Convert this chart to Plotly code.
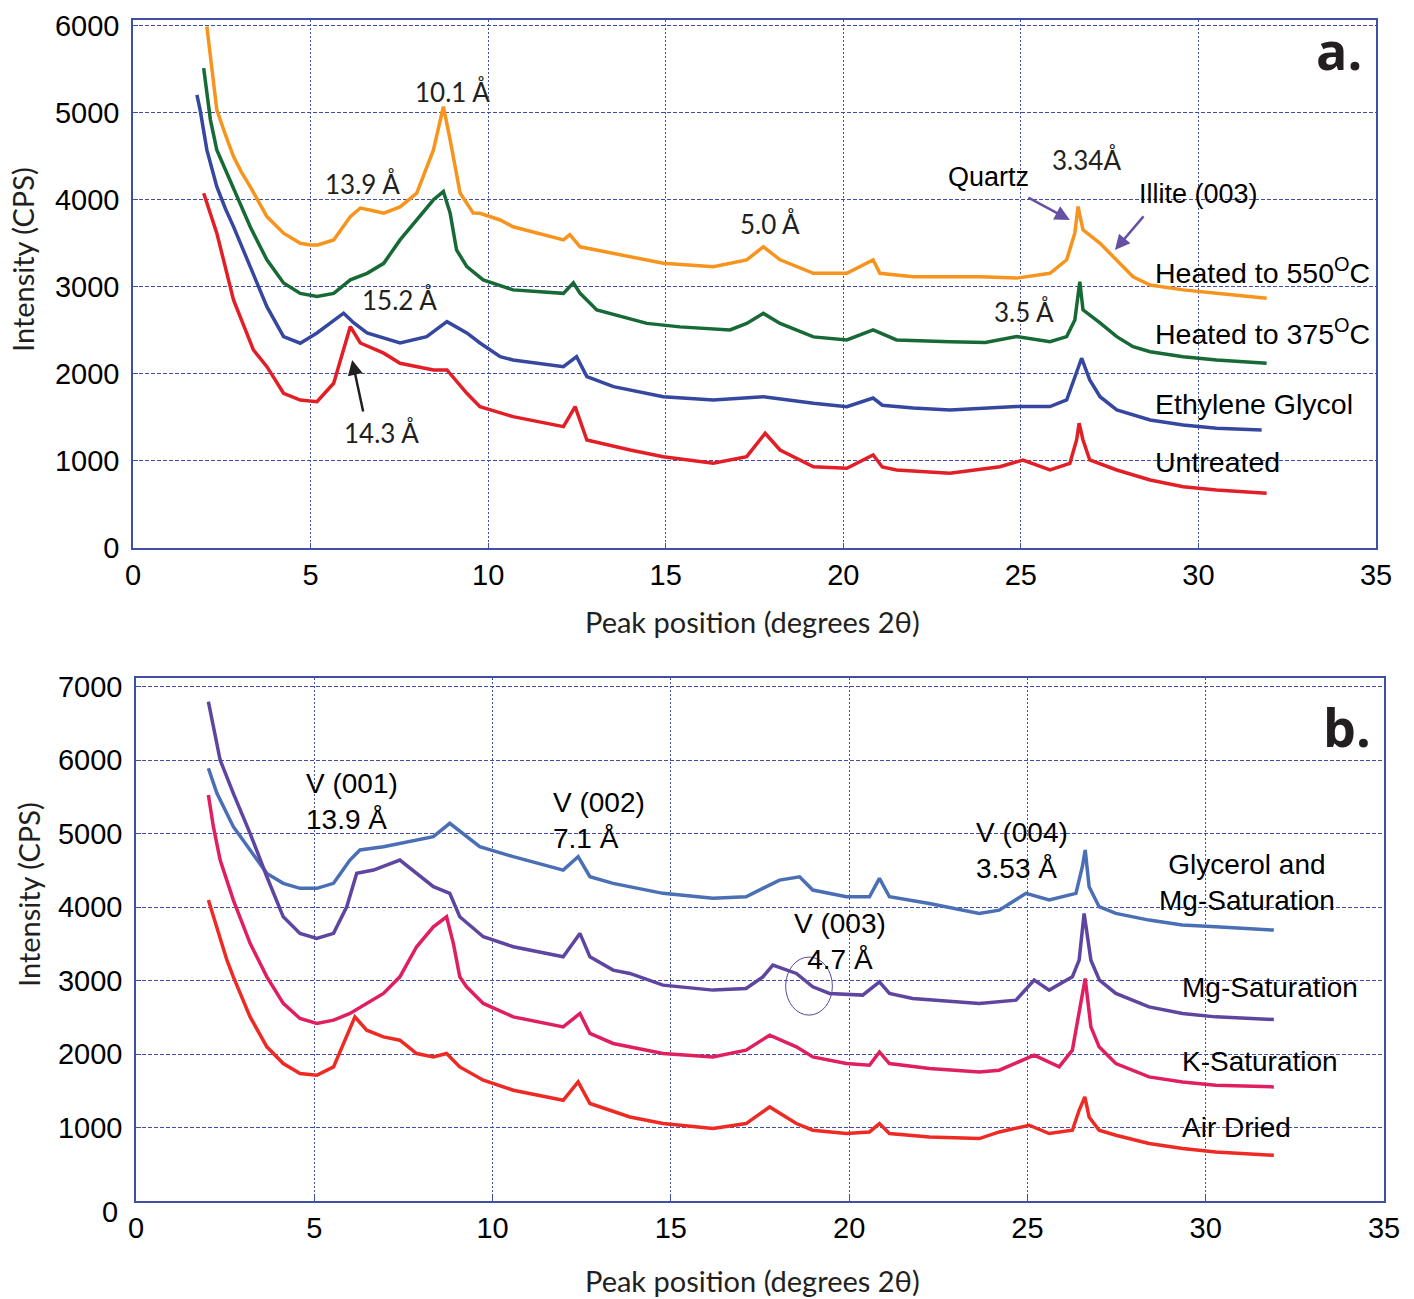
import plotly.graph_objects as go

# ---------------- Panel a data ----------------
x_550 = [2.08, 2.2, 2.36, 2.6, 2.83, 3.05, 3.30, 3.77, 4.24, 4.71, 5.0, 5.2, 5.65, 6.12, 6.4, 6.7, 7.06, 7.52, 7.99, 8.46, 8.74, 8.93, 9.21, 9.58, 9.77, 10.34, 10.70, 12.12, 12.3, 12.59, 14.0, 14.93, 16.34, 17.28, 17.75, 18.22, 19.16, 20.1, 20.84, 21.03, 21.97, 23.0, 23.85, 24.88, 25.82, 26.29, 26.52, 26.61, 26.75, 27.23, 27.7, 28.16, 28.64, 29.57, 30.51, 31.92]
y_550 = [5990, 5600, 5033, 4750, 4496, 4320, 4151, 3807, 3617, 3500, 3481, 3480, 3539, 3807, 3905, 3880, 3847, 3918, 4077, 4573, 5071, 4688, 4077, 3847, 3845, 3768, 3690, 3539, 3600, 3460, 3346, 3270, 3230, 3310, 3460, 3310, 3155, 3155, 3310, 3155, 3115, 3115, 3115, 3100, 3155, 3310, 3617, 3922, 3654, 3500, 3310, 3115, 3020, 2965, 2925, 2870]

x_375 = [1.99, 2.18, 2.36, 2.6, 2.83, 3.30, 3.77, 4.24, 4.71, 5.18, 5.65, 6.12, 6.59, 7.06, 7.52, 7.99, 8.46, 8.74, 8.93, 9.11, 9.4, 9.86, 10.7, 12.12, 12.4, 12.59, 13.06, 14.47, 15.4, 16.81, 17.28, 17.75, 18.22, 19.16, 20.1, 20.84, 21.5, 23.0, 24.0, 24.88, 25.82, 26.29, 26.52, 26.66, 26.75, 27.23, 27.7, 28.16, 28.64, 29.57, 30.51, 31.92]
y_375 = [5512, 4918, 4573, 4350, 4150, 3690, 3310, 3045, 2925, 2888, 2925, 3080, 3155, 3270, 3539, 3768, 4000, 4094, 3847, 3424, 3232, 3080, 2965, 2925, 3045, 2925, 2735, 2580, 2540, 2505, 2580, 2695, 2580, 2425, 2390, 2505, 2390, 2370, 2360, 2428, 2370, 2428, 2620, 3060, 2735, 2585, 2428, 2313, 2255, 2198, 2160, 2122]

x_eg = [1.8, 1.89, 2.08, 2.36, 2.6, 2.83, 3.3, 3.77, 4.24, 4.71, 5.18, 5.65, 5.93, 6.22, 6.59, 7.52, 8.27, 8.84, 9.4, 9.77, 10.34, 10.7, 12.12, 12.49, 12.78, 13.53, 14.93, 16.34, 17.75, 19.16, 20.1, 20.84, 21.1, 21.97, 23.0, 24.88, 25.82, 26.29, 26.52, 26.71, 26.94, 27.23, 27.7, 28.64, 29.57, 30.51, 31.78]
y_eg = [5205, 5033, 4573, 4151, 3900, 3692, 3232, 2772, 2428, 2352, 2470, 2620, 2697, 2585, 2470, 2355, 2428, 2600, 2470, 2355, 2198, 2160, 2083, 2198, 1968, 1853, 1738, 1700, 1738, 1663, 1624, 1723, 1640, 1609, 1586, 1624, 1624, 1700, 1968, 2180, 1930, 1738, 1586, 1471, 1413, 1375, 1356]

x_untr = [1.99, 2.36, 2.83, 3.39, 3.77, 4.24, 4.71, 5.18, 5.65, 5.93, 6.12, 6.4, 7.06, 7.52, 8.46, 8.84, 9.4, 9.77, 10.34, 10.7, 12.12, 12.45, 12.78, 14.0, 14.93, 16.34, 17.28, 17.8, 18.22, 19.16, 20.1, 20.84, 21.1, 21.5, 23.0, 24.41, 25.06, 25.82, 26.38, 26.57, 26.64, 26.75, 26.94, 27.7, 28.64, 29.57, 30.51, 31.92]
y_untr = [4075, 3617, 2850, 2275, 2083, 1777, 1700, 1681, 1892, 2275, 2543, 2355, 2238, 2122, 2045, 2045, 1777, 1624, 1547, 1509, 1394, 1624, 1241, 1126, 1049, 973, 1049, 1318, 1126, 934, 916, 1068, 930, 896, 858, 934, 1011, 896, 973, 1241, 1433, 1241, 1011, 896, 781, 704, 666, 628]

# ---------------- Panel b data ----------------
x_glyc = [2.03, 2.27, 2.73, 3.2, 3.67, 4.13, 4.6, 5.07, 5.54, 6.0, 6.28, 6.94, 7.87, 8.34, 8.8, 9.27, 9.64, 10.58, 11.98, 12.4, 12.73, 13.38, 14.78, 16.18, 17.11, 18.05, 18.61, 18.98, 19.92, 20.57, 20.85, 21.13, 22.25, 23.65, 24.21, 24.96, 25.61, 26.36, 26.54, 26.62, 26.73, 27.01, 27.48, 28.41, 29.34, 30.28, 31.91]
y_glyc = [5889, 5549, 5094, 4777, 4459, 4323, 4255, 4255, 4323, 4640, 4777, 4822, 4913, 4958, 5140, 4958, 4822, 4686, 4504, 4686, 4413, 4323, 4187, 4119, 4141, 4368, 4413, 4232, 4141, 4141, 4391, 4141, 4050, 3914, 3959, 4187, 4096, 4187, 4549, 4777, 4277, 4005, 3914, 3823, 3755, 3732, 3687]

x_mg = [2.03, 2.17, 2.36, 2.73, 3.2, 3.67, 4.13, 4.6, 5.07, 5.54, 5.91, 6.19, 6.66, 7.4, 7.87, 8.34, 8.8, 9.08, 9.74, 10.58, 11.98, 12.45, 12.73, 13.38, 13.85, 14.78, 16.18, 17.11, 17.58, 17.86, 18.52, 18.98, 19.45, 20.38, 20.85, 21.13, 21.78, 23.65, 24.68, 25.19, 25.61, 26.26, 26.45, 26.59, 26.78, 27.02, 27.48, 28.41, 29.35, 30.28, 31.91]
y_mg = [6796, 6456, 6002, 5549, 5004, 4413, 3868, 3642, 3574, 3642, 4004, 4459, 4504, 4640, 4459, 4277, 4187, 3868, 3596, 3460, 3323, 3642, 3323, 3142, 3097, 2938, 2870, 2893, 3051, 3210, 3097, 2915, 2825, 2802, 2983, 2825, 2757, 2689, 2734, 3006, 2870, 3051, 3278, 3914, 3278, 3006, 2825, 2642, 2552, 2506, 2470]

x_k = [2.03, 2.17, 2.36, 2.73, 3.2, 3.67, 4.13, 4.6, 5.07, 5.54, 6.0, 6.47, 6.94, 7.4, 7.87, 8.34, 8.71, 8.9, 9.08, 9.27, 9.74, 10.58, 11.98, 12.45, 12.73, 13.38, 14.78, 16.18, 17.11, 17.77, 18.52, 18.98, 19.92, 20.57, 20.85, 21.13, 22.25, 23.65, 24.21, 25.19, 25.89, 26.26, 26.45, 26.62, 26.78, 27.01, 27.48, 28.41, 29.35, 30.28, 31.91]
y_k = [5526, 5094, 4640, 4096, 3506, 3051, 2689, 2484, 2416, 2461, 2552, 2689, 2825, 3051, 3460, 3732, 3868, 3506, 3051, 2915, 2689, 2506, 2370, 2552, 2280, 2144, 2007, 1961, 2053, 2257, 2098, 1961, 1871, 1848, 2029, 1871, 1803, 1757, 1780, 1984, 1825, 2053, 2597, 3029, 2370, 2098, 1871, 1689, 1621, 1576, 1553]

x_air = [2.03, 2.27, 2.55, 2.73, 3.2, 3.67, 4.13, 4.6, 5.07, 5.54, 5.82, 6.14, 6.47, 6.94, 7.4, 7.87, 8.34, 8.71, 9.08, 9.74, 10.58, 11.98, 12.4, 12.73, 13.85, 14.78, 16.18, 17.11, 17.77, 18.52, 18.98, 19.92, 20.57, 20.85, 21.13, 22.25, 23.65, 24.21, 25.05, 25.61, 26.26, 26.45, 26.61, 26.73, 27.01, 27.48, 28.41, 29.35, 30.28, 31.91]
y_air = [4096, 3732, 3278, 3051, 2506, 2098, 1871, 1735, 1712, 1825, 2144, 2506, 2325, 2234, 2189, 2007, 1961, 2007, 1825, 1644, 1508, 1371, 1621, 1327, 1144, 1054, 986, 1054, 1280, 1054, 963, 918, 940, 1054, 918, 872, 850, 940, 1031, 918, 963, 1235, 1417, 1144, 963, 895, 782, 714, 667, 622]

x_ticks = [0, 5, 10, 15, 20, 25, 30, 35]
y_ticks_a = [0, 1000, 2000, 3000, 4000, 5000, 6000]
y_ticks_b = [1000, 2000, 3000, 4000, 5000, 6000, 7000]

W, H = 1414, 1299
AX = "#3F4FA6"
TXT = "#231F20"
TICKFONT = dict(family="Liberation Sans, Arial", size=29, color="black")

fig = go.Figure()

def add(x, y, color, xa, ya, name):
    fig.add_trace(go.Scatter(x=x, y=y, mode="lines", name=name,
                             line=dict(color=color, width=3.5),
                             xaxis=xa, yaxis=ya, showlegend=False))

add(x_550, y_550, "#F7941D", "x", "y", "Heated to 550")
add(x_375, y_375, "#176A36", "x", "y", "Heated to 375")
add(x_eg, y_eg, "#35479F", "x", "y", "Ethylene Glycol")
add(x_untr, y_untr, "#E21F26", "x", "y", "Untreated")
add(x_glyc, y_glyc, "#4A6FB5", "x2", "y2", "Glycerol and Mg-Saturation")
add(x_mg, y_mg, "#5D45A0", "x2", "y2", "Mg-Saturation")
add(x_k, y_k, "#E01F5E", "x2", "y2", "K-Saturation")
add(x_air, y_air, "#EE2A24", "x2", "y2", "Air Dried")

def xaxis(domain, anchor):
    return dict(domain=domain, anchor=anchor, range=[0, 35], tickvals=x_ticks,
                showline=True, mirror=True, linecolor=AX, linewidth=1.5,
                showgrid=True, gridcolor=AX, gridwidth=1, griddash="2px,2px",
                ticks="inside", ticklen=5, tickcolor=AX, automargin=False,
                tickfont=TICKFONT, zeroline=False, ticklabelstandoff=0)

def yaxis(domain, anchor, rng, tv):
    return dict(domain=domain, anchor=anchor, range=rng, tickvals=tv,
                showline=True, mirror=True, linecolor=AX, linewidth=1.5,
                showgrid=True, gridcolor=AX, gridwidth=1, griddash="4px,2px",
                ticks="inside", ticklen=5, tickcolor=AX, automargin=False,
                tickfont=TICKFONT, zeroline=False, ticklabelstandoff=6)

fig.update_layout(
    width=W, height=H, margin=dict(l=0, r=0, t=0, b=0, pad=0, autoexpand=False),
    paper_bgcolor="white", plot_bgcolor="white",
    xaxis=xaxis([133 / W, 1376 / W], "y"),
    yaxis=yaxis([1 - 548 / H, 1 - 20 / H], "x", [0, 6065], y_ticks_a),
    xaxis2=xaxis([136 / W, 1384 / W], "y2"),
    yaxis2=yaxis([1 - 1201 / H, 1 - 678 / H], "x2", [0, 7118], y_ticks_b),
)

ann = []
AF = "Lato, Noto Sans"
def t(x, y, text, xa="x", ya="y", size=26, fam=AF, xanchor="center", align="center", color=TXT):
    ann.append(dict(x=x, y=y, xref=xa, yref=ya, text=text,
                    showarrow=False, xanchor=xanchor, yanchor="middle", align=align,
                    font=dict(family=fam, size=size, color=color)))

ARIAL = "Liberation Sans, Arial"
# panel a labels
t(8.99, 5239, "10.1 Å")
t(6.45, 4182, "13.9 Å")
t(7.5, 2850, "15.2 Å")
t(6.99, 1321, "14.3 Å")
t(17.94, 3723, "5.0 Å")
t(26.86, 4458, "3.34Å")
t(25.1, 2712, "3.5 Å")
t(24.1, 4263, "Quartz", fam=ARIAL, size=27, color="black")
t(30.0, 4067, "Illite (003)", fam=ARIAL, size=27, color="black")
t(28.72, 3183, "Heated to 550<sup>O</sup>C", fam=ARIAL, size=28.5, xanchor="left", color="black")
t(28.72, 2482, "Heated to 375<sup>O</sup>C", fam=ARIAL, size=28.5, xanchor="left", color="black")
t(28.72, 1655, "Ethylene Glycol", fam=ARIAL, size=28.5, xanchor="left", color="black")
t(28.72, 988, "Untreated", fam=ARIAL, size=28.5, xanchor="left", color="black")
ann.append(dict(x=34.65, y=5722, xref="x", yref="y", text="<b>a.</b>", showarrow=False,
                xanchor="right", yanchor="middle", font=dict(family="Open Sans", size=52, color=TXT)))

# panel b labels
t(4.72, 5444, "V (001)<br>13.9 Å", "x2", "y2", size=28, fam=ARIAL, xanchor="left", align="left", color="black")
t(11.63, 5183, "V (002)<br>7.1 Å", "x2", "y2", size=28, fam=ARIAL, xanchor="left", align="left", color="black")
t(19.73, 3537, "V (003)<br>4.7 Å", "x2", "y2", size=28, fam=ARIAL, color="black")
t(23.51, 4777, "V (004)<br>3.53 Å", "x2", "y2", size=28, fam=ARIAL, xanchor="left", align="left", color="black")
t(31.16, 4334, "Glycerol and<br>Mg-Saturation", "x2", "y2", size=28, fam=ARIAL, color="black")
t(29.28, 2911, "Mg-Saturation", "x2", "y2", size=28, fam=ARIAL, xanchor="left", color="black")
t(29.28, 1902, "K-Saturation", "x2", "y2", size=28, fam=ARIAL, xanchor="left", color="black")
t(29.28, 1003, "Air Dried", "x2", "y2", size=28, fam=ARIAL, xanchor="left", color="black")
ann.append(dict(x=34.7, y=6452, xref="x2", yref="y2", text="<b>b.</b>", showarrow=False,
                xanchor="right", yanchor="middle", font=dict(family="Open Sans", size=52, color=TXT)))

# arrows (line annotations with arrowheads)
def arrow(x0, y0, x1, y1, color, xa="x", ya="y"):
    ann.append(dict(x=x1, y=y1, ax=x0, ay=y0, xref=xa, yref=ya, axref=xa, ayref=ya,
                    text="", showarrow=True, arrowhead=2, arrowsize=1.2, arrowwidth=2.5,
                    arrowcolor=color))

arrow(6.49, 1551, 6.17, 2160, TXT)
arrow(25.17, 4033, 26.38, 3769, "#6650A4")
arrow(28.49, 3826, 27.65, 3424, "#6650A4")

# axis titles
for (px, py, txt, ang) in [(22, 260, "Intensity (CPS)", -90), (28, 895, "Intensity (CPS)", -90),
                           (752, 621, "Peak position (degrees 2θ)", 0), (752, 1280, "Peak position (degrees 2θ)", 0)]:
    ann.append(dict(x=px / W, y=1 - py / H, xref="paper", yref="paper", text=txt, showarrow=False,
                    textangle=ang, xanchor="center", yanchor="middle",
                    font=dict(family=AF, size=29, color=TXT)))

# bottom panel "0" label (offset in original)
ann.append(dict(x=110 / W, y=1 - 1212 / H, xref="paper", yref="paper", text="0", showarrow=False,
                xanchor="center", yanchor="middle", font=TICKFONT))

fig.update_layout(annotations=ann)

fig.add_shape(type="circle", xref="x2", yref="y2", x0=18.22, x1=19.53, y0=2530, y1=3320,
              line=dict(color="#5D45A0", width=1))

fig.write_html("out.html")
